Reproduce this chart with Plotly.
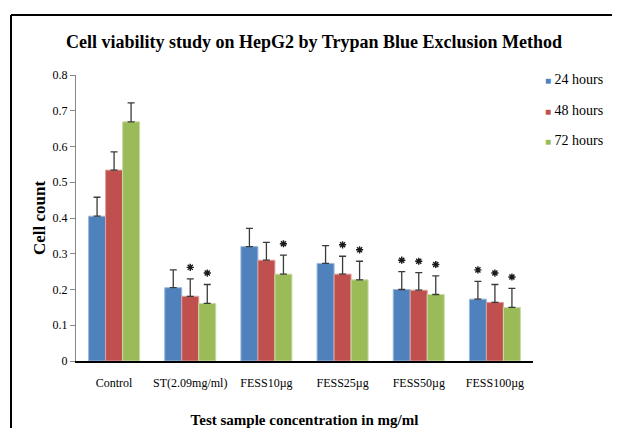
import plotly.graph_objects as go

categories = ["Control", "ST(2.09mg/ml)", "FESS10µg", "FESS25µg", "FESS50µg", "FESS100µg"]
series_names = ["24 hours", "48 hours", "72 hours"]
values_24h = [0.405, 0.205, 0.320, 0.273, 0.200, 0.173]
values_48h = [0.534, 0.181, 0.282, 0.243, 0.198, 0.164]
values_72h = [0.669, 0.161, 0.243, 0.227, 0.186, 0.150]
errors_24h = [0.053, 0.050, 0.051, 0.050, 0.050, 0.050]
errors_48h = [0.051, 0.049, 0.050, 0.050, 0.049, 0.050]
errors_72h = [0.053, 0.053, 0.053, 0.052, 0.052, 0.053]
signif_24h = [False, False, False, False, True, True]
signif_48h = [False, True, False, True, True, True]
signif_72h = [False, True, True, True, True, True]
colors = ["#4F81BD", "#C0504D", "#9BBB59"]
edge_colors = ["#9DB9DD", "#E0A09E", "#C9DCA6"]

values = [values_24h, values_48h, values_72h]
errors = [errors_24h, errors_48h, errors_72h]
signif = [signif_24h, signif_48h, signif_72h]

SERIF = "Liberation Serif"
bargap = 0.33
bar_w = (1 - bargap) / 3
xpos = list(range(len(categories)))

# figure geometry (page has an 8px body offset)
W, H = 612, 420
L, R, T, B = 68, 87, 67, 67
PW, PH = W - L - R, H - T - B

def px(x_page):
    return (x_page - 8 - L) / PW
def py(y_page):
    return (H - B - (y_page - 8)) / PH

fig = go.Figure()
for k in range(3):
    fig.add_trace(go.Bar(
        x=xpos, y=values[k], name=series_names[k], showlegend=False,
        marker=dict(color=colors[k], line=dict(color=edge_colors[k], width=1)),
        error_y=dict(type="data", array=errors[k], arrayminus=[0]*len(categories),
                     symmetric=False, color="#3a3a3a", thickness=1.3, width=3.5),
    ))

# significance asterisks above the error bars
sx, sy = [], []
for k in range(3):
    for i in xpos:
        if signif[k][i]:
            sx.append(i + (k - 1) * bar_w)
            sy.append(values[k][i] + errors[k][i] + 0.032)
fig.add_trace(go.Scatter(
    x=sx, y=sy, mode="markers",
    marker=dict(symbol="asterisk-open", size=6, color="#1a1a1a",
                line=dict(color="#1a1a1a", width=1.4)),
    showlegend=False, hoverinfo="skip",
))

# legend entries (small coloured squares like the original)
for k in range(3):
    fig.add_trace(go.Scatter(
        x=[None], y=[None], mode="markers",
        marker=dict(size=1, color="rgba(0,0,0,0)"),
        name=f"<span style='font-size:10px;color:{colors[k]}'>■</span> {series_names[k]}",
        legendgroup=f"g{k}",
    ))

# frame
fig.add_shape(type="line", xref="paper", yref="paper",
              x0=px(11), x1=px(640), y0=py(15), y1=py(15),
              line=dict(color="black", width=2))
fig.add_shape(type="line", xref="paper", yref="paper",
              x0=px(11), x1=px(11), y0=py(15), y1=py(450),
              line=dict(color="black", width=2))

fig.update_layout(
    width=W, height=H,
    margin=dict(l=L, r=R, t=T, b=B, autoexpand=False),
    paper_bgcolor="white", plot_bgcolor="white",
    barmode="group", bargap=bargap, bargroupgap=0,
    title=dict(text="<b>Cell viability study on HepG2 by Trypan Blue Exclusion Method</b>",
               x=px(314), xanchor="center", y=1 - (42 - 8) / H, yanchor="middle",
               xref="paper", yref="container",
               font=dict(family=SERIF, size=18, color="black")),
    font=dict(family=SERIF, color="black"),
    legend=dict(x=px(505), y=py(63), xanchor="left", yanchor="top",
                font=dict(family=SERIF, size=14, color="black"),
                traceorder="grouped", tracegroupgap=9.5,
                itemwidth=30, bgcolor="rgba(0,0,0,0)"),
    showlegend=True,
)
fig.update_xaxes(
    range=[-0.5, 5.5], tickvals=xpos, ticktext=categories,
    tickfont=dict(family=SERIF, size=12, color="black"),
    ticklabelstandoff=10, automargin=False,
    showline=True, linecolor="black", linewidth=1.5,
    ticks="", showgrid=False, zeroline=False,
    title=dict(text="<b>Test sample concentration in mg/ml</b>",
               font=dict(family=SERIF, size=15, color="black"), standoff=27),
)
fig.update_yaxes(
    range=[0, 0.8], dtick=0.1, automargin=False,
    tickfont=dict(family=SERIF, size=12, color="black"),
    showline=True, linecolor="#888888", linewidth=1,
    ticks="outside", ticklen=5, tickcolor="#888888",
    showgrid=False, zeroline=False,
    title=dict(text="<b>Cell count</b>",
               font=dict(family=SERIF, size=17, color="black"), standoff=2),
)

fig.write_html("out.html")
